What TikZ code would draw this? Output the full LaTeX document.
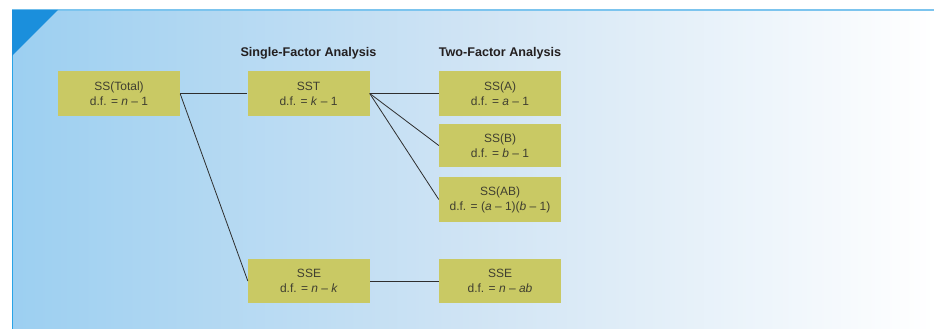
\documentclass[tikz,border=0pt]{standalone}
\usepackage{fontspec}
\setmainfont{Liberation Sans}
\definecolor{bgL}{HTML}{9CCFF1}
\definecolor{bgM}{HTML}{D0E4F4}
\definecolor{topblue}{HTML}{7CC4EE}
\definecolor{leftblue}{HTML}{29A3E6}
\definecolor{cornerblue}{HTML}{1B8FDC}
\definecolor{boxfill}{HTML}{C9C964}
\definecolor{boxtext}{HTML}{403F30}
\definecolor{linecol}{HTML}{2E2E2E}
\definecolor{headtext}{HTML}{231F20}
\begin{document}
\begin{tikzpicture}[x=1pt,y=-1pt,
  box/.style={rectangle, fill=boxfill, minimum width=122, minimum height=44,
    inner sep=0pt, align=center, text=boxtext, font=\fontsize{12}{15}\selectfont},
  head/.style={font=\fontsize{12.6}{15}\selectfont\bfseries, text=headtext, inner sep=0pt},
  conn/.style={draw=linecol, line width=0.8pt}]
\useasboundingbox (0,0) rectangle (934,329);
\shade[left color=bgL, right color=white, middle color=bgM] (12,10) rectangle (934,329);
\draw[topblue, line width=1.5pt] (12,10) -- (934,10);
\draw[leftblue, line width=1pt] (12,10) -- (12,329);
\fill[cornerblue] (12,10) -- (58,10) -- (12,56) -- cycle;

\node[head] (h1) at (308.5,53) {Single-Factor Analysis};
\node[head] (h2) at (500,53) {Two-Factor Analysis};

\node[box, minimum height=45] (tot) at (119,93.8) {SS(Total)\\d.f. = \textit{n} – 1};
\node[box] (sst) at (308.5,93.5) {SST\\d.f. = \textit{k} – 1};
\node[box] (ssa) at (500,93.5) {SS(A)\\d.f. = \textit{a} – 1};
\node[box, minimum height=43] (ssb) at (500,145.5) {SS(B)\\d.f. = \textit{b} – 1};
\node[box, minimum height=45] (ssab) at (500,199.5) {SS(AB)\\d.f. = (\textit{a} – 1)(\textit{b} – 1)};
\node[box] (sse1) at (309,281) {SSE\\d.f. = \textit{n} – \textit{k}};
\node[box] (sse2) at (500,281) {SSE\\d.f. = \textit{n} – \textit{ab}};

\draw[conn] (tot.east) -- (sst.west |- tot.east);
\draw[conn] (tot.east) -- (sse1.west);
\draw[conn] (sst.east) -- (ssa.west);
\draw[conn] (sst.east) -- (ssb.west);
\draw[conn] (sst.east) -- (ssab.west);
\draw[conn] (sse1.east) -- (sse2.west);
\end{tikzpicture}
\end{document}
